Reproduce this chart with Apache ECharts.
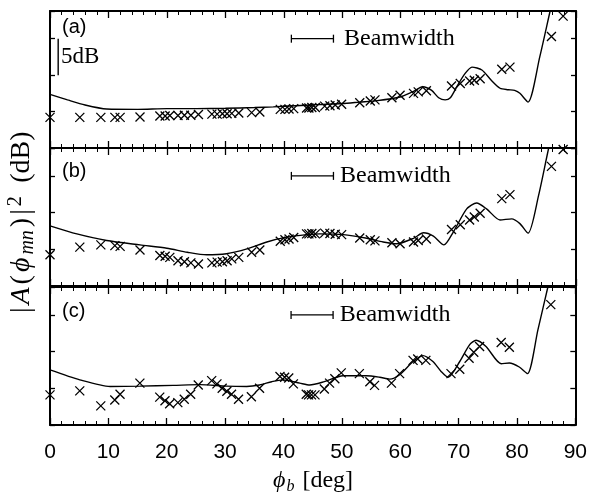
<!DOCTYPE html>
<html><head><meta charset="utf-8">
<script src="https://cdn.jsdelivr.net/npm/echarts@6/dist/echarts.min.js"></script>
<style>html,body{margin:0;padding:0;background:#fff}#c{width:590px;height:494px}</style>
</head><body><div id="c"></div>
<script>
// ---- data ----
const xTickLabels = ['0','10','20','30','40','50','60','70','80','90'];
const panelLabels = ['(a)','(b)','(c)'];
const measAngles = [0,5.1,8.7,11.1,12.0,15.4,18.8,19.7,20.5,21.9,23.0,24.1,25.4,27.7,28.6,29.5,30.3,31.1,32.3,34.5,35.9,39.4,40.2,40.9,41.7,43.9,44.3,44.8,45.4,47.0,47.9,48.8,49.9,53.0,54.8,55.6,58.5,59.9,62.2,63.0,64.4,68.7,70.2,71.8,72.6,73.6,77.3,78.7,85.8,87.8];
const measA = [4.2,4.2,4.2,4.2,4.2,4.25,4.4,4.4,4.45,4.45,4.5,4.5,4.6,4.65,4.65,4.7,4.7,4.75,4.8,4.85,4.95,5.3,5.3,5.35,5.4,5.5,5.5,5.55,5.55,5.75,5.8,5.9,6.0,6.2,6.45,6.6,6.9,7.25,7.5,7.7,7.85,8.5,8.85,9.2,9.3,9.5,10.8,11.1,15.3,18.1];
const measB = [4.25,5.3,5.6,5.5,5.4,4.9,4.15,4.05,3.9,3.45,3.3,3.15,3.0,3.15,3.25,3.3,3.45,3.7,3.9,4.6,4.9,6.1,6.3,6.4,6.6,7.1,7.1,7.15,7.1,7.2,7.15,7.05,7.0,6.55,6.3,6.15,5.9,5.75,6.0,6.2,6.4,7.7,8.35,9.0,9.4,9.9,11.9,12.45,16.3,18.6];
const measC = [4.1,4.65,2.6,3.4,4.2,5.7,3.8,3.3,2.9,3.05,3.5,4.2,5.45,6.05,5.6,5.0,4.6,4.2,3.5,3.85,5.0,6.6,6.5,6.4,5.6,4.2,4.1,4.1,4.1,4.9,5.7,6.3,7.1,7.0,5.9,5.4,5.7,7.0,8.8,9.0,8.8,7.0,7.6,9.1,9.9,10.7,11.25,10.6,16.4,20.5];
const theoryA = [[0,7.35],[3,6.6],[6,5.9],[9.7,5.35],[15,5.3],[20,5.4],[25,5.4],[30,5.45],[35,5.55],[38.2,5.65],[42,5.8],[45.6,5.95],[50,6.1],[53,6.3],[56,6.5],[59.9,7.0],[62,7.7],[63.8,8.4],[65.3,7.9],[66.5,6.9],[67.6,6.6],[68.5,6.9],[69.6,8.4],[71,10.2],[72.2,11.1],[73.9,10.7],[75.5,9.3],[77,8.2],[78.4,8.0],[79.5,7.9],[80.4,7.5],[81.8,6.3],[83.8,12.5],[85.6,18.9],[86.5,22]];
const theoryB = [[0,8.2],[4.6,7.1],[9.7,6.2],[15.4,5.6],[20,5.15],[23.5,4.6],[26.8,4.25],[30.2,4.4],[33.7,5.05],[37.1,6.0],[40.5,6.65],[43.9,7.0],[46.2,7.1],[50.2,7.0],[54.2,6.5],[57,6.0],[59.3,5.75],[62.2,6.5],[63.9,7.25],[65.6,6.8],[67.4,5.6],[69,7.35],[71.3,10.5],[73,11.3],[74.7,10.5],[77,9.0],[79,9.15],[80.4,8.5],[81.8,7.2],[83.6,12.35],[85.3,18.7],[86.3,22]];
const theoryC = [[0,7.5],[5.1,6.15],[10.3,5.25],[15.4,5.3],[21.1,5.4],[25.7,5.5],[30.2,5.3],[33.7,5.25],[35.9,5.45],[38,5.9],[39.9,6.15],[42.8,5.7],[44.5,5.45],[47,5.9],[50.2,6.7],[54.2,6.7],[56.5,6.5],[58.2,6.25],[59.9,6.85],[62.2,8.65],[63.9,9.45],[65.6,8.65],[67,7.3],[68.2,6.5],[70.2,8.65],[71.9,10.95],[73,11.55],[74.7,10.7],[77.3,8.35],[78.7,8.45],[80.4,7.9],[81.8,7.0],[83.6,13.0],[85.3,18.8],[86.3,22]];
const beamStart = 41.3, beamEnd = 48.5, beamLevel = 15;
const scaleBarX = 1.4, scaleBarLow = 10, scaleBarHigh = 15;
const yMin = 0, yMax = 18.8, yStep = 5;

// ---- chart ----
const SERIF = "'Liberation Serif','DejaVu Serif',serif";
const SANS = "'Liberation Sans',Arial,sans-serif";
const measSets = [measA, measB, measC];
const theorySets = [theoryA, theoryB, theoryC];
const gridTops = [11, 148, 287], gridHeights = [137, 138, 138];
const beamLabelGap = [10, 6, 6];
const cross = 'path://M0,0L10,10M10,0L0,10';

const grid = [], xAxis = [], yAxis = [], series = [];
for (let p = 0; p < 3; p++) {
  grid.push({left: 50, right: 14, top: gridTops[p], height: gridHeights[p]});
  const axCommon = {
    type: 'value', gridIndex: p, min: 0, max: 90, interval: 10,
    axisLine: {show: true, onZero: false, lineStyle: {color: '#000', width: 2}},
    axisTick: {show: true, inside: true, length: 7, lineStyle: {color: '#000', width: 1.3}},
    minorTick: {show: true, splitNumber: 5, length: 4, lineStyle: {color: '#000', width: 1}},
    splitLine: {show: false}
  };
  xAxis.push(Object.assign({}, axCommon, {position: 'bottom',
    axisLabel: {show: p === 2, color: '#000', fontSize: 21, fontFamily: SANS, margin: 17,
      formatter: v => xTickLabels[Math.round(v / 10)]}}));
  xAxis.push(Object.assign({}, axCommon, {position: 'top', axisLabel: {show: false}}));
  const yCommon = {
    type: 'value', gridIndex: p, min: yMin, max: yMax, interval: yStep,
    axisLine: {show: true, onZero: false, lineStyle: {color: '#000', width: 2}},
    axisTick: {show: true, inside: true, length: 5, lineStyle: {color: '#000', width: 1.3}},
    axisLabel: {show: false}, splitLine: {show: false}
  };
  yAxis.push(Object.assign({}, yCommon, {position: 'left'}));
  yAxis.push(Object.assign({}, yCommon, {position: 'right'}));

  series.push({type: 'line', xAxisIndex: 2 * p, yAxisIndex: 2 * p, data: theorySets[p],
    showSymbol: false, smooth: 0.25, lineStyle: {color: '#000', width: 1.4}, clip: true, silent: true});
  series.push({type: 'scatter', xAxisIndex: 2 * p, yAxisIndex: 2 * p,
    data: measAngles.map((a, i) => [a, measSets[p][i]]),
    symbol: cross, symbolSize: 9, clip: true, silent: true,
    itemStyle: {color: 'none', borderColor: '#000', borderWidth: 1.3, opacity: 1}});
  series.push({type: 'line', xAxisIndex: 2 * p, yAxisIndex: 2 * p,
    data: [[beamStart, beamLevel], {value: [beamEnd, beamLevel],
      label: {show: true, position: 'right', distance: beamLabelGap[p], formatter: 'Beamwidth',
        color: '#000', fontSize: 24, fontFamily: SERIF}}],
    symbol: 'rect', symbolSize: [1.3, 8], showSymbol: true, silent: true,
    itemStyle: {color: '#000'}, lineStyle: {color: '#000', width: 1.3}});
}
series.push({type: 'line', xAxisIndex: 0, yAxisIndex: 0,
  data: [[scaleBarX, scaleBarLow], [scaleBarX, scaleBarHigh]], showSymbol: false, silent: true,
  lineStyle: {color: '#000', width: 1.4}});

const graphic = [];
const labelY = [27, 171, 311];
panelLabels.forEach((t, p) => graphic.push({type: 'text', x: 62, y: labelY[p],
  style: {text: t, font: '20px ' + SANS, fill: '#000', verticalAlign: 'middle'}}));
graphic.push({type: 'text', x: 61, y: 57, style: {text: '5dB', font: '23px ' + SERIF, fill: '#000',
  verticalAlign: 'middle'}});
graphic.push({type: 'text', x: 313, y: 481, style: {
  text: '{i|\u03d5}{sub|b}{n|[deg]}', align: 'center', verticalAlign: 'middle',
  rich: {i: {fontFamily: SERIF, fontStyle: 'italic', fontSize: 24, lineHeight: 28, fill: '#000'},
         sub: {fontFamily: SERIF, fontStyle: 'italic', fontSize: 16, lineHeight: 16, verticalAlign: 'bottom', fill: '#000', padding: [0, 8, 0, 1]},
         n: {fontFamily: SERIF, fontSize: 24, lineHeight: 28, fill: '#000'}}}});
const pad = [0, 1.5, 0, 1.5];
graphic.push({type: 'text', x: 22, y: 222, rotation: Math.PI / 2, style: {
  text: '{n||}{i|A}{n|(}{i|\u03d5}{sub|mn}{n|)}{n||}{sup|2}{g|(dB)}', align: 'center', verticalAlign: 'middle',
  rich: {i: {fontFamily: SERIF, fontStyle: 'italic', fontSize: 28, lineHeight: 32, fill: '#000', padding: pad},
         sub: {fontFamily: SERIF, fontStyle: 'italic', fontSize: 20, lineHeight: 19, verticalAlign: 'bottom', fill: '#000', padding: pad},
         sup: {fontFamily: SERIF, fontSize: 20, lineHeight: 19, verticalAlign: 'top', fill: '#000', padding: pad},
         n: {fontFamily: SERIF, fontSize: 28, lineHeight: 32, fill: '#000', padding: pad},
         g: {fontFamily: SERIF, fontSize: 28, lineHeight: 32, fill: '#000', padding: [0, 2, 0, 12]}}}});

const chart = echarts.init(document.getElementById('c'), null, {renderer: 'canvas'});
chart.setOption({animation: false, backgroundColor: '#fff', grid, xAxis, yAxis, series, graphic});
</script></body></html>
